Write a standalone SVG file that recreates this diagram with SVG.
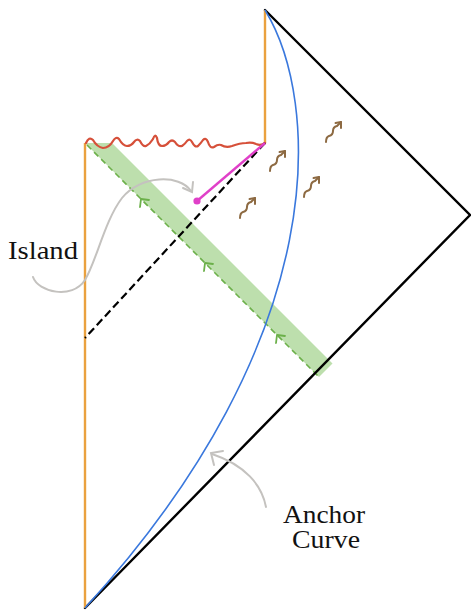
<svg xmlns="http://www.w3.org/2000/svg" width="471" height="610" viewBox="0 0 471 610">
<style>
.bnd{fill:none;stroke:#000;stroke-width:2.4;stroke-linecap:round}
.or{fill:none;stroke:#eaa13f;stroke-width:2.4}
.gr{fill:none;stroke:#c4c2bf;stroke-width:2;stroke-linecap:round}
.br{fill:none;stroke:#8d6a42;stroke-width:2;stroke-linecap:round;stroke-linejoin:round}
.gn{fill:none;stroke:#6cb04a;stroke-width:1.8;stroke-linecap:round;stroke-linejoin:round}
.lbl{font-family:"Liberation Serif","Times New Roman",serif;font-size:25px;fill:#111}
</style>
<defs>
<g id="wig">
<path class="br" d="M0,0 Q0,-5 3,-6 Q7,-7 7,-11 Q7,-15 11,-16 L15,-20"/>
<path class="br" d="M9.5,-19 L15,-20 L15,-14"/>
</g>
<path id="chev" class="gn" d="M-1,8 L0,0 L8,1"/>
</defs>
<g id="band">
<polygon points="85,143 112,143 332.5,363.5 319,377" fill="#bddfad"/>
<path d="M87,145 L319,377" stroke="#6cb04a" stroke-width="1.6" stroke-dasharray="6 4" fill="none"/>
<use href="#chev" transform="translate(141,199)"/>
<use href="#chev" transform="translate(205,263)"/>
<use href="#chev" transform="translate(277,335)"/>
</g>
<g id="boundary">
<path class="bnd" d="M265,10 L470,215 L85,608"/>
<line class="or" x1="265" y1="10" x2="265" y2="143"/>
<line class="or" x1="85" y1="143" x2="85" y2="608"/>
</g>
<g id="singularity">
<path d="M86,143 Q89,136 93,140 Q97,147 103,148 Q109,148 113,141 Q116,136 119,139 Q123,146 127,146 Q131,146 134,142 Q137,138 140,141 Q143,147 146,146 Q150,144 153,139 Q155,133 157,138 Q158,146 162,146 Q166,146 169,142 Q172,139 175,142 Q178,147 182,146 Q185,144 187,141 Q190,138 192,142 Q195,148 198,146 Q201,143 203,140 Q206,137 208,142 Q210,149 214,147 Q218,144 221,145 Q226,148 232,146 Q240,143 246,143 Q252,142 256,144 Q261,146 265,143" fill="none" stroke="#d6503a" stroke-width="2.2" stroke-linecap="round"/>
</g>
<g id="anchor">
<path d="M265,10 C320,100 335,335 85,608" fill="none" stroke="#3a78dd" stroke-width="1.6"/>
</g>
<g id="horizon">
<line x1="265" y1="143" x2="85" y2="338" stroke="#000" stroke-width="2.2" stroke-dasharray="8 4"/>
</g>
<g id="qes">
<line x1="265" y1="143" x2="197" y2="201" stroke="#e040c8" stroke-width="2.4"/>
<circle cx="197" cy="201" r="3.6" fill="#e040c8"/>
</g>
<g id="radiation">
<use href="#wig" transform="translate(240,218)"/>
<use href="#wig" transform="translate(270,171)"/>
<use href="#wig" transform="translate(304,197)"/>
<use href="#wig" transform="translate(326,142)"/>
</g>
<g id="island-label">
<text class="lbl" x="8" y="259" textLength="70" lengthAdjust="spacingAndGlyphs">Island</text>
<path class="gr" d="M33,277 C38,292 72,300 85,280 C96,262 105,220 122,198 C140,175 180,174 191,191"/>
<path class="gr" d="M183,188 L192,192 L193,182"/>
</g>
<g id="anchor-label">
<text class="lbl" x="283" y="523" textLength="82" lengthAdjust="spacingAndGlyphs">Anchor</text>
<text class="lbl" x="292" y="548" textLength="68" lengthAdjust="spacingAndGlyphs">Curve</text>
<path class="gr" d="M266,507 C262,485 245,465 212,454"/>
<path class="gr" d="M214,465 L211,453 L223,451"/>
</g>
</svg>
